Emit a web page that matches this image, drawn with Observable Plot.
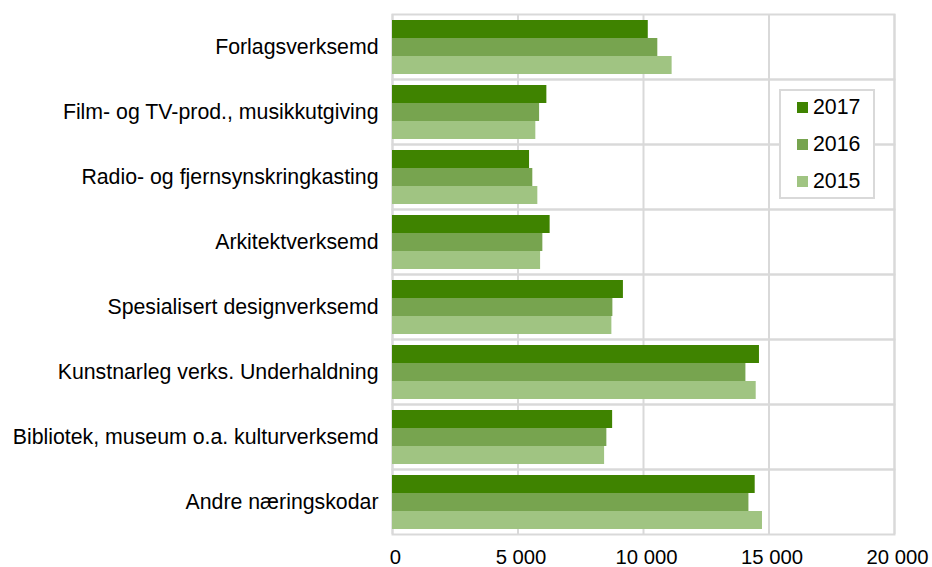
<!DOCTYPE html>
<html>
<head>
<meta charset="utf-8">
<script src="https://cdn.jsdelivr.net/npm/d3@7"></script>
<script src="https://cdn.jsdelivr.net/npm/@observablehq/plot@0.6"></script>
<style>
  html, body { margin: 0; padding: 0; background: #fff; }
  #wrap { position: relative; width: 932px; height: 567px; font-family: "Liberation Sans", Arial, sans-serif; }
  #legend { position: absolute; left: 779px; top: 89px; width: 92px; height: 106px; border: 2px solid #d9d9d9; background: #fff; box-sizing: content-box; }
  .item { position: absolute; left: 16px; height: 22px; display: flex; align-items: center; font-size: 21.3px; color: #000; }
  .sw { width: 11px; height: 11px; margin-right: 5px; }
</style>
</head>
<body>
<div id="wrap"><div id="legend"></div></div>
<script>
const categories = [
  "Forlagsverksemd",
  "Film- og TV-prod., musikkutgiving",
  "Radio- og fjernsynskringkasting",
  "Arkitektverksemd",
  "Spesialisert designverksemd",
  "Kunstnarleg verks. Underhaldning",
  "Bibliotek, museum o.a. kulturverksemd",
  "Andre næringskodar"
];
const years = ["2017", "2016", "2015"];
const v2017 = [10190, 6150, 5460, 6280, 9200, 14620, 8770, 14450];
const v2016 = [10570, 5860, 5590, 5990, 8780, 14080, 8540, 14200];
const v2015 = [11140, 5710, 5790, 5900, 8740, 14490, 8450, 14740];
const colors = ["#3f8300", "#77a44f", "#a0c482"];
const xTicks = [0, 5000, 10000, 15000, 20000];

const series = {"2017": v2017, "2016": v2016, "2015": v2015};
const rows = [];
categories.forEach((c, i) => years.forEach(y => rows.push({category: c, year: y, value: series[y][i]})));

const fmt = d => d3.format(",")(d).replace(/,/g, " ");

const chart = Plot.plot({
  width: 932,
  height: 567,
  marginLeft: 392,
  marginRight: 38,
  marginTop: 12,
  marginBottom: 32,
  style: {fontFamily: "'Liberation Sans', Arial, sans-serif", fontSize: "21.3px", color: "#000", background: "#fff"},
  x: {domain: [0, 20000], ticks: xTicks, tickFormat: fmt, label: null, axis: null},
  fy: {domain: categories, padding: 0, label: null, axis: "left", tickSize: 0, tickPadding: 14},
  y: {domain: years, paddingInner: 0, paddingOuter: 0.28, axis: null},
  color: {domain: years, range: colors},
  marks: [
    Plot.gridX(xTicks, {stroke: "#d9d9d9", strokeWidth: 2, strokeOpacity: 1}),
    Plot.frame({stroke: "#d9d9d9", strokeWidth: 2}),
    Plot.barX(rows, {x: "value", y: "year", fy: "category", fill: "year"}),
    Plot.axisX(xTicks, {tickSize: 0, tickPadding: 15, tickFormat: fmt, label: null, dx: 3, fontSize: 20.3})
  ]
});
document.getElementById("wrap").prepend(chart);

const legend = document.getElementById("legend");
years.forEach((y, i) => {
  const it = document.createElement("div");
  it.className = "item";
  it.style.top = (5 + i * 37) + "px";
  const sw = document.createElement("div");
  sw.className = "sw";
  sw.style.background = colors[i];
  it.appendChild(sw);
  const t = document.createElement("span");
  t.textContent = y;
  it.appendChild(t);
  legend.appendChild(it);
});
</script>
</body>
</html>
